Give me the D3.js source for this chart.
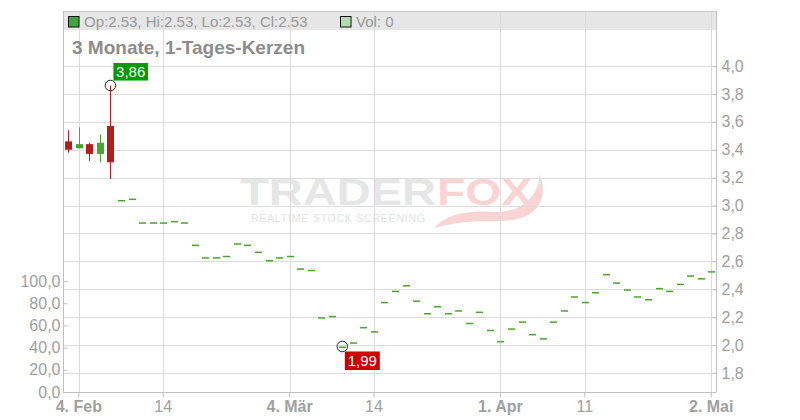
<!DOCTYPE html>
<html><head><meta charset="utf-8">
<script src="https://cdn.jsdelivr.net/npm/d3@7"></script>
<style>
body{margin:0;background:#fff}
svg{display:block}
text{font-family:"Liberation Sans",Arial,Helvetica,sans-serif}
</style>
</head><body>
<svg id="chart" width="800" height="420"></svg>
<script>
// ---------- data ----------
const dates = [
 "2019-02-01","2019-02-04","2019-02-05","2019-02-06","2019-02-07","2019-02-08",
 "2019-02-11","2019-02-12","2019-02-13","2019-02-14","2019-02-15",
 "2019-02-18","2019-02-19","2019-02-20","2019-02-21","2019-02-22",
 "2019-02-25","2019-02-26","2019-02-27","2019-02-28",
 "2019-03-01","2019-03-04","2019-03-05","2019-03-06","2019-03-07","2019-03-08",
 "2019-03-11","2019-03-12","2019-03-13","2019-03-14","2019-03-15",
 "2019-03-18","2019-03-19","2019-03-20","2019-03-21","2019-03-22",
 "2019-03-25","2019-03-26","2019-03-27","2019-03-28","2019-03-29",
 "2019-04-01","2019-04-02","2019-04-03","2019-04-04","2019-04-05",
 "2019-04-08","2019-04-09","2019-04-10","2019-04-11","2019-04-12",
 "2019-04-15","2019-04-16","2019-04-17","2019-04-18",
 "2019-04-23","2019-04-24","2019-04-25","2019-04-26",
 "2019-04-29","2019-04-30","2019-05-02"
];
const opens = [
 3.46,3.41,3.44,3.37,3.57,3.04,
 3.05,2.88,2.88,2.88,2.89,
 2.88,2.72,2.63,2.63,2.64,
 2.73,2.72,2.67,2.61,
 2.63,2.64,2.55,2.54,2.20,2.21,
 1.99,2.02,2.13,2.10,2.31,
 2.39,2.43,2.32,2.23,2.28,
 2.23,2.25,2.16,2.24,2.11,
 2.03,2.12,2.17,2.08,2.05,
 2.17,2.25,2.35,2.31,2.38,
 2.51,2.45,2.40,2.35,
 2.33,2.41,2.39,2.44,
 2.50,2.48,2.53
];
const highs = [
 3.54,3.56,3.45,3.51,3.86,3.04,
 3.05,2.88,2.88,2.88,2.89,
 2.88,2.72,2.63,2.63,2.64,
 2.73,2.72,2.67,2.61,
 2.63,2.64,2.55,2.54,2.20,2.21,
 1.99,2.02,2.13,2.10,2.31,
 2.39,2.43,2.32,2.23,2.28,
 2.23,2.25,2.16,2.24,2.11,
 2.03,2.12,2.17,2.08,2.05,
 2.17,2.25,2.35,2.31,2.38,
 2.51,2.45,2.40,2.35,
 2.33,2.41,2.39,2.44,
 2.50,2.48,2.53
];
const lows = [
 3.38,3.41,3.32,3.31,3.19,3.04,
 3.05,2.88,2.88,2.88,2.89,
 2.88,2.72,2.63,2.63,2.64,
 2.73,2.72,2.67,2.61,
 2.63,2.64,2.55,2.54,2.20,2.21,
 1.99,2.02,2.13,2.10,2.31,
 2.39,2.43,2.32,2.23,2.28,
 2.23,2.25,2.16,2.24,2.11,
 2.03,2.12,2.17,2.08,2.05,
 2.17,2.25,2.35,2.31,2.38,
 2.51,2.45,2.40,2.35,
 2.33,2.41,2.39,2.44,
 2.50,2.48,2.53
];
const closes = [
 3.40,3.44,3.37,3.45,3.31,3.04,
 3.05,2.88,2.88,2.88,2.89,
 2.88,2.72,2.63,2.63,2.64,
 2.73,2.72,2.67,2.61,
 2.63,2.64,2.55,2.54,2.20,2.21,
 1.99,2.02,2.13,2.10,2.31,
 2.39,2.43,2.32,2.23,2.28,
 2.23,2.25,2.16,2.24,2.11,
 2.03,2.12,2.17,2.08,2.05,
 2.17,2.25,2.35,2.31,2.38,
 2.51,2.45,2.40,2.35,
 2.33,2.41,2.39,2.44,
 2.50,2.48,2.53
];
const volumes = [
 0,0,0,0,0,0,0,0,0,0,0,0,0,0,0,0,0,0,0,0,
 0,0,0,0,0,0,0,0,0,0,0,0,0,0,0,0,0,0,0,0,0,
 0,0,0,0,0,0,0,0,0,0,0,0,0,0,0,0,0,0,0,0,0
];
const priceTicks = [1.8,2.0,2.2,2.4,2.6,2.8,3.0,3.2,3.4,3.6,3.8,4.0];
const volumeTicks = [0,20,40,60,80,100];
const xTickDates = ["2019-02-04","2019-02-14","2019-03-04","2019-03-14","2019-04-01","2019-04-11","2019-05-02"];
const xTickLabels = ["4. Feb","14","4. Mär","14","1. Apr","11","2. Mai"];
const xTickBold = [true,false,true,false,true,false,true];
const legendText = "Op:2.53, Hi:2.53, Lo:2.53, Cl:2.53";
const volLegendText = "Vol: 0";
const titleText = "3 Monate, 1-Tages-Kerzen";

// ---------- setup ----------
const svg = d3.select("#chart");
const L = 63, R = 716.5, T = 11, B = 392;
const de = d3.formatLocale({decimal: ",", thousands: ".", grouping: [3], currency: ["", "€"]});
const f1 = de.format(".1f"), f2 = de.format(".2f");

const x = d3.scaleBand().domain(dates).range([L, R]).padding(0);
const cx = d => x(d) + x.bandwidth() / 2;
const y = d3.scaleLinear().domain([1.8, 4.0]).range([373, 66]);
const yv = d3.scaleLinear().domain([0, 100]).range([B, 281]);

const rows = dates.map((d, i) => ({date: d, o: opens[i], h: highs[i], l: lows[i], c: closes[i], v: volumes[i]}));

const gridCol = "#dcdcdc", axisCol = "#c0c0c0", labCol = "#a0a0a0";

// ---------- watermark ----------
const wm = svg.append("g").attr("class", "watermark");
wm.append("text").attr("x", 240).attr("y", 205).attr("font-size", 36).attr("font-weight", "bold")
  .attr("textLength", 196).attr("lengthAdjust", "spacingAndGlyphs").attr("fill", "#e6e6e6").text("TRADER");
wm.append("text").attr("x", 437).attr("y", 205).attr("font-size", 36).attr("font-weight", "bold")
  .attr("textLength", 95).attr("lengthAdjust", "spacingAndGlyphs").attr("fill", "#f9d4d4").text("FOX");
wm.append("path").attr("fill", "#f9d4d4")
  .attr("d", "M434,228 C446,214 470,210 492,212 C510,213 526,206 532,196 C538,188 540,180 539,174 C546,188 544,204 530,214 C514,224 490,220 468,222 C454,223 442,226 434,228 Z");
wm.append("text").attr("x", 251).attr("y", 222).attr("font-size", 10.5)
  .attr("textLength", 174).attr("lengthAdjust", "spacing").attr("fill", "#e2e2e2").text("REALTIME STOCK SCREENING");

// ---------- header band ----------
svg.append("rect").attr("x", L).attr("y", T).attr("width", 716 - L).attr("height", 19).attr("fill", "#e6e6e6");

// ---------- grid ----------
const grid = svg.append("g");
grid.selectAll("line.h").data(priceTicks).join("line")
  .attr("x1", L).attr("x2", 716).attr("y1", d => Math.round(y(d)) + 0.5).attr("y2", d => Math.round(y(d)) + 0.5)
  .attr("stroke", gridCol);
grid.selectAll("line.v").data(xTickDates).join("line")
  .attr("x1", d => Math.round(cx(d)) + 0.5).attr("x2", d => Math.round(cx(d)) + 0.5)
  .attr("y1", T).attr("y2", B).attr("stroke", gridCol);
svg.append("line").attr("x1", L).attr("x2", 716).attr("y1", T + 0.5).attr("y2", T + 0.5).attr("stroke", "#cccccc");

// ---------- volume bars ----------
svg.append("g").selectAll("rect").data(rows).join("rect")
  .attr("x", d => cx(d.date) - 3.5).attr("width", 7)
  .attr("y", d => yv(d.v)).attr("height", d => B - yv(d.v)).attr("fill", "#b0dcb0");

// ---------- candles ----------
const up = "#4aa52c", down = "#b51c1c";
const cg = svg.append("g");
cg.selectAll("line").data(rows.filter(d => d.h !== d.l)).join("line")
  .attr("x1", d => Math.round(cx(d.date)) + 0.5).attr("x2", d => Math.round(cx(d.date)) + 0.5)
  .attr("y1", d => y(d.h)).attr("y2", d => y(d.l))
  .attr("stroke", d => d.c >= d.o ? up : down).attr("stroke-width", 1);
cg.selectAll("rect").data(rows).join("rect")
  .attr("x", d => Math.round(cx(d.date)) - 3).attr("width", 7)
  .attr("y", d => y(Math.max(d.o, d.c)))
  .attr("height", d => Math.max(1.5, Math.abs(y(d.o) - y(d.c))))
  .attr("fill", d => d.c >= d.o ? up : down);

// ---------- axes ----------
const ra = svg.append("g").attr("transform", `translate(716.5,0)`)
  .call(d3.axisRight(y).tickValues(priceTicks).tickFormat(f1).tickSize(-4).tickPadding(5));
ra.select(".domain").attr("d", `M0,${T}V${B}`).attr("stroke", axisCol);
ra.selectAll(".tick line").attr("stroke", axisCol);
ra.selectAll("text").attr("fill", labCol).attr("font-size", 16).attr("font-family", null);

const la = svg.append("g").attr("transform", `translate(${L + 0.5},0)`)
  .call(d3.axisLeft(yv).tickValues(volumeTicks).tickFormat(f1).tickSize(-4).tickPadding(3));
la.select(".domain").attr("d", `M0,${T}V${B}`).attr("stroke", axisCol);
la.selectAll(".tick line").attr("stroke", axisCol);
la.selectAll("text").attr("fill", labCol).attr("font-size", 16).attr("font-family", null);

const ba = svg.append("g").attr("transform", `translate(0,${B + 0.5})`)
  .call(d3.axisBottom(x).tickValues(xTickDates).tickFormat((d, i) => xTickLabels[i]).tickSize(5).tickPadding(3));
ba.select(".domain").attr("d", `M${L},0H${R}`).attr("stroke", axisCol);
ba.selectAll(".tick line").attr("stroke", axisCol);
ba.selectAll("text").attr("fill", labCol).attr("font-size", 16).attr("font-family", null)
  .attr("font-weight", (d, i) => xTickBold[i] ? "bold" : "normal");

// ---------- high / low markers ----------
const hiIdx = d3.maxIndex(highs), loIdx = d3.minIndex(lows);
const hx = cx(dates[hiIdx]), hy = y(highs[hiIdx]);
const lx = cx(dates[loIdx]), ly = y(lows[loIdx]);
svg.append("circle").attr("cx", hx).attr("cy", hy).attr("r", 5.3).attr("fill", "none").attr("stroke", "#222");
svg.append("circle").attr("cx", lx).attr("cy", ly).attr("r", 5.3).attr("fill", "none").attr("stroke", "#222");
svg.append("rect").attr("x", hx + 3).attr("y", hy - 22.5).attr("width", 34.5).attr("height", 17.5).attr("fill", "#009900");
svg.append("text").attr("x", hx + 20.25).attr("y", hy - 8.5).attr("text-anchor", "middle").attr("font-size", 15)
  .attr("fill", "#fff").text(f2(highs[hiIdx]));
svg.append("rect").attr("x", lx + 2.5).attr("y", ly + 5).attr("width", 35).attr("height", 18.5).attr("fill", "#cc0000");
svg.append("text").attr("x", lx + 20).attr("y", ly + 19.5).attr("text-anchor", "middle").attr("font-size", 15)
  .attr("fill", "#fff").text(f2(lows[loIdx]));

// ---------- legend / title ----------
svg.append("rect").attr("x", 68.5).attr("y", 16.5).attr("width", 10.5).attr("height", 10.5)
  .attr("fill", "#3fa63a").attr("stroke", "#111");
svg.append("text").attr("x", 84).attr("y", 27).attr("font-size", 15).attr("fill", "#999").text(legendText);
svg.append("rect").attr("x", 340.5).attr("y", 16.5).attr("width", 10.5).attr("height", 10.5)
  .attr("fill", "#b2dcae").attr("stroke", "#111");
svg.append("text").attr("x", 356).attr("y", 27).attr("font-size", 15).attr("fill", "#999").text(volLegendText);
svg.append("text").attr("x", 72).attr("y", 54).attr("font-size", 19).attr("font-weight", "bold")
  .attr("fill", "#8c8c8c").text(titleText);
</script>
</body></html>
